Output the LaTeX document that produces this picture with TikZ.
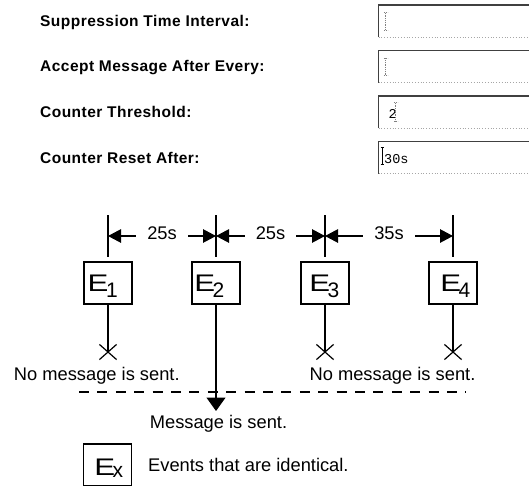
\documentclass[tikz,border=0pt]{standalone}
\usepackage{fontspec}
\setmainfont{Liberation Sans}
\setmonofont{Liberation Mono}
\newfontfamily\formfont[LetterSpace=3]{Liberation Sans}
\usetikzlibrary{arrows.meta,shapes.misc}

\tikzset{
  evbox/.style={draw,line width=1.2pt,minimum width=48pt,minimum height=42pt,inner sep=0pt},
  evtext/.style={anchor=base west,inner sep=0pt,font=\fontsize{24}{24}\selectfont},
  link/.style={line width=1.2pt},
  dimline/.style={line width=1.2pt,{Triangle[length=13pt,width=13.5pt]}-{Triangle[length=13pt,width=13.5pt]}},
  dimtext/.style={fill=white,inner xsep=11pt,inner ysep=1pt,yshift=2.5pt,font=\fontsize{18.3}{20}\selectfont},
  sent/.style={line width=1.2pt,-{Triangle[length=13.5pt,width=19pt]}},
  nosend/.style={cross out,draw,line width=1.2pt,minimum width=16pt,minimum height=14pt,inner sep=0pt},
  caption/.style={anchor=base,inner sep=0pt,font=\fontsize{18.3}{20}\selectfont},
  formlabel/.style={anchor=base west,inner sep=0pt,font=\formfont\bfseries\fontsize{15.5}{17}\selectfont},
  fieldedge/.style={line width=1.6pt,black!75},
  fieldbottom/.style={line width=0.8pt,gray!70,dotted},
  entry/.style={anchor=base west,inner sep=0pt,font=\ttfamily\fontsize{13.5}{14}\selectfont},
}
% \evlabel[drop]{index}: E with a large subscript
\newcommand{\evlabel}[2][6.7pt]{\scalebox{1.3}[1]{E}\kern-2.5pt\raisebox{-#1}{\fontsize{21}{21}\selectfont #2}}
% \ibeam[style]{x}{y top}{y bottom}
\newcommand{\ibeam}[4][]{%
  \draw[line width=0.8pt,#1] (#2,#3) -- (#2,#4);
  \draw[line width=0.8pt,#1] (#2-1.8,#3) -- (#2+1.8,#3) (#2-1.8,#4) -- (#2+1.8,#4);}

\begin{document}
\begin{tikzpicture}[x=1pt,y=-1pt]
  \useasboundingbox (0,0) rectangle (529,485);

  % the form
  \foreach \ftop/\bl/\txt [count=\i] in {5/26.5/Suppression Time Interval:,
      50.5/71.7/Accept Message After Every:,
      96/117/Counter Threshold:,
      141.5/163/Counter Reset After:}{
    \node[formlabel] (lab\i) at (40,\bl) {\txt};
    \draw[fieldedge] (378.5,\ftop+32) -- (378.5,\ftop) -- (535,\ftop);
    \draw[fieldbottom] (378.5,\ftop+32) -- (535,\ftop+32);}
  \ibeam[gray,densely dotted]{385.7}{12.7}{30}
  \ibeam[gray,densely dotted]{385.7}{58.2}{75.5}
  \node[entry] (val3) at (388.5,118) {2};
  \ibeam[gray,densely dotted]{395.7}{102.7}{121.7}
  \ibeam{382.3}{147.7}{164}
  \node[entry] (val4) at (384,163) {30s};

  % the events
  \node[evbox] (e1) at (108,283) {};
  \node[evbox] (e2) at (216,283) {};
  \node[evbox] (e3) at (325,283) {};
  \node[evbox] (e4) at (453,283) {};
  \node[evtext] (l1) at (87.5,291) {\evlabel{1}};
  \node[evtext] (l2) at (194.2,291) {\evlabel{2}};
  \node[evtext] (l3) at (309.2,291) {\evlabel{3}};
  \node[evtext] (l4) at (440.2,291) {\evlabel{4}};

  \foreach \i in {1,...,4}{
    \coordinate (t\i) at (e\i.north |- 0,215);
    \coordinate (d\i) at (e\i.north |- 0,236);
    \draw[link] (t\i) -- ([yshift=4pt]e\i.north);}
  \draw[dimline] (d1) -- node[dimtext] (g12) {25s} (d2);
  \draw[dimline] (d2) -- node[dimtext] (g23) {25s} (d3);
  \draw[dimline] (d3) -- node[dimtext] (g34) {35s} (d4);

  % what happens to each event
  \node[nosend] (x1) at (e1 |- 0,352) {};
  \node[nosend] (x3) at (e3 |- 0,352) {};
  \node[nosend] (x4) at (e4 |- 0,352) {};
  \foreach \i in {1,3,4} \draw[link] (e\i) -- (x\i.center);
  \draw[line width=1.2pt,dash pattern=on 10pt off 8.4pt] (79,392) -- (466,392);
  \coordinate (m2) at (e2 |- 0,411);
  \draw[sent] (e2) -- (m2);

  \node[caption] (n1) at (96.8,380) {No message is sent.};
  \node[caption] (n2) at (392.5,380) {No message is sent.};
  \node[caption] (n3) at (218.5,428) {Message is sent.};

  % legend
  \node[evbox] (ex) at (107.5,465) {};
  \node[evtext] (lx) at (94.2,475) {\evlabel[2.5pt]{x}};
  \node[caption,anchor=base west] (n4) at (148,471.7) {Events that are identical.};
\end{tikzpicture}
\end{document}
